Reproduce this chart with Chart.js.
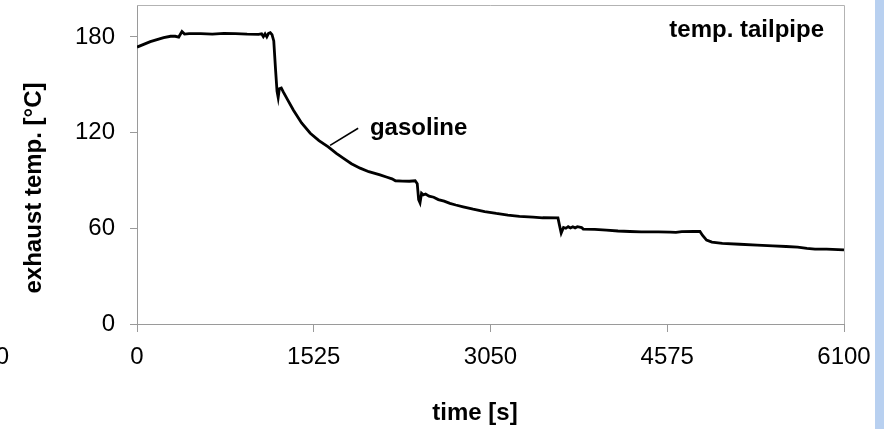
<!DOCTYPE html>
<html>
<head>
<meta charset="utf-8">
<script src="https://cdn.jsdelivr.net/npm/chart.js@4/dist/chart.umd.min.js"></script>
<style>
  html, body { margin: 0; padding: 0; background: #ffffff; }
  canvas { display: block; }
</style>
</head>
<body>
<canvas id="tailpipe" width="889" height="429"></canvas>
<script>
// tailpipe exhaust temperature over the run (gasoline)
const timeSec = [
    0, 115, 230, 290, 330, 360, 388, 410, 450, 550, 650, 750, 850, 950, 1050,
    1075, 1090, 1105, 1120, 1135, 1150, 1165, 1180, 1195, 1208, 1218, 1228, 1245, 1262,
    1300, 1350, 1420, 1495, 1570, 1650, 1720, 1779, 1850, 1925, 2000, 2097, 2158,
    2200, 2230, 2290, 2350, 2400, 2418, 2430, 2442, 2455, 2470, 2490, 2520, 2560,
    2600, 2650, 2700, 2750, 2814, 2900, 3000, 3100, 3200, 3300, 3417, 3500, 3632,
    3645, 3660, 3680, 3700, 3720, 3740, 3760, 3780, 3800, 3836, 3850, 3950, 4050,
    4150, 4252, 4350, 4500, 4600, 4650, 4700, 4800, 4857, 4880, 4914, 4960, 5050,
    5200, 5350, 5486, 5600, 5700, 5780, 5850, 5950, 6100
];
const exhaustTemp = [
    173.6, 177.0, 179.5, 180.4, 180.4, 179.9, 183.4, 181.8, 182.1, 182.0, 181.8, 182.2, 182.0, 181.7, 181.6,
    182.0, 180.2, 181.9, 180.0, 182.2, 182.6, 181.4, 177.5, 160.0, 146.0, 142.0, 147.5, 148.0, 145.5,
    140.5, 134.0, 126.0, 119.6, 115.0, 111.0, 107.0, 104.0, 100.5, 97.7, 95.5, 93.5, 92.0,
    91.0, 89.8, 89.6, 89.5, 89.8, 88.0, 78.0, 76.0, 82.0, 81.0, 81.5, 80.2, 79.5,
    78.0, 77.0, 75.6, 74.6, 73.5, 72.0, 70.5, 69.3, 68.3, 67.5, 67.0, 66.6, 66.5,
    62.0, 57.0, 60.5, 60.0, 61.0, 60.2, 61.0, 60.3, 61.0, 60.5, 59.5, 59.3, 58.8,
    58.3, 58.0, 57.7, 57.7, 57.6, 57.4, 57.9, 58.0, 58.0, 55.5, 52.6, 51.3, 50.6,
    50.0, 49.5, 49.0, 48.6, 48.2, 47.4, 47.0, 47.0, 46.5
];
const timeTicks = [0, 1525, 3050, 4575, 6100];
const tempTicks = [0, 60, 120, 180];

const FONT = '"Liberation Sans", Arial, sans-serif';
const AXIS_GREY = '#9a9a9a';

// series label and its leader line, in data units
const seriesName = 'gasoline';
const leaderFrom = { x: 1666, y: 112 };
const leaderTo = { x: 1908, y: 122.7 };
const labelAt = { x: 2010, y: 122.5 };

const decorations = {
    id: 'decorations',
    beforeDraw(chart) {
        const ctx = chart.ctx;
        ctx.save();
        ctx.fillStyle = '#ffffff';
        ctx.fillRect(0, 0, chart.width, chart.height);
        // slide edge strip on the right
        ctx.fillStyle = '#b8d0f0';
        ctx.fillRect(875, 0, 9, chart.height);
        ctx.restore();
    },
    afterDraw(chart) {
        const ctx = chart.ctx;
        const area = chart.chartArea;
        const xs = chart.scales.x;
        const ys = chart.scales.y;
        ctx.save();

        // frame on top and right
        ctx.strokeStyle = '#b3b3b3';
        ctx.lineWidth = 1;
        ctx.beginPath();
        ctx.moveTo(area.left, area.top + 0.5);
        ctx.lineTo(area.right + 0.5, area.top + 0.5);
        ctx.lineTo(area.right + 0.5, area.bottom);
        ctx.stroke();

        // leader line + series name
        ctx.strokeStyle = '#000000';
        ctx.lineWidth = 1.6;
        ctx.beginPath();
        ctx.moveTo(xs.getPixelForValue(leaderFrom.x), ys.getPixelForValue(leaderFrom.y));
        ctx.lineTo(xs.getPixelForValue(leaderTo.x), ys.getPixelForValue(leaderTo.y));
        ctx.stroke();

        ctx.fillStyle = '#000000';
        ctx.font = 'bold 24px ' + FONT;
        ctx.textAlign = 'left';
        ctx.textBaseline = 'middle';
        ctx.fillText(seriesName, xs.getPixelForValue(labelAt.x), ys.getPixelForValue(labelAt.y));

        ctx.textAlign = 'right';
        ctx.textBaseline = 'alphabetic';
        ctx.fillText('temp. tailpipe', area.right - 20, area.top + 32);

        // axis titles
        ctx.textAlign = 'center';
        ctx.textBaseline = 'middle';
        ctx.fillText('time [s]', 475, 413);
        ctx.save();
        ctx.translate(34, 188);
        ctx.rotate(-Math.PI / 2);
        ctx.fillText('exhaust temp. [°C]', 0, 0);
        ctx.restore();

        // clipped tick label of the neighbouring panel
        ctx.font = '24px ' + FONT;
        ctx.textAlign = 'right';
        ctx.fillText('0', 9, 357);

        ctx.restore();
    }
};

function noPadding(scale) {
    scale.paddingTop = 0;
    scale.paddingBottom = 0;
    scale.paddingLeft = 0;
    scale.paddingRight = 0;
}

new Chart(document.getElementById('tailpipe'), {
    type: 'line',
    data: {
        datasets: [{
            label: seriesName,
            data: timeSec.map((t, i) => ({ x: t, y: exhaustTemp[i] })),
            borderColor: '#000000',
            borderWidth: 2.8,
            pointRadius: 0,
            tension: 0,
            fill: false
        }]
    },
    options: {
        responsive: false,
        animation: false,
        devicePixelRatio: 1,
        layout: { padding: { top: 5, right: 45, left: 0, bottom: 0 } },
        plugins: {
            legend: { display: false },
            tooltip: { enabled: false }
        },
        scales: {
            x: {
                type: 'linear',
                min: 0,
                max: 6100,
                afterBuildTicks: scale => { scale.ticks = timeTicks.map(v => ({ value: v })); },
                afterFit: scale => { scale.height = 105; noPadding(scale); },
                grid: { drawOnChartArea: false, tickLength: 8, color: AXIS_GREY },
                border: { color: AXIS_GREY },
                ticks: {
                    color: '#000000',
                    padding: 11,
                    maxRotation: 0,
                    font: { family: FONT, size: 24 },
                    callback: v => String(v)
                }
            },
            y: {
                min: 0,
                max: 200,
                afterBuildTicks: scale => { scale.ticks = tempTicks.map(v => ({ value: v })); },
                afterFit: scale => { scale.width = 137; noPadding(scale); },
                grid: { drawOnChartArea: false, tickLength: 7, color: AXIS_GREY },
                border: { color: AXIS_GREY },
                ticks: {
                    color: '#000000',
                    padding: 15,
                    font: { family: FONT, size: 24 },
                    callback: v => String(v)
                }
            }
        }
    },
    plugins: [decorations]
});
</script>
</body>
</html>
